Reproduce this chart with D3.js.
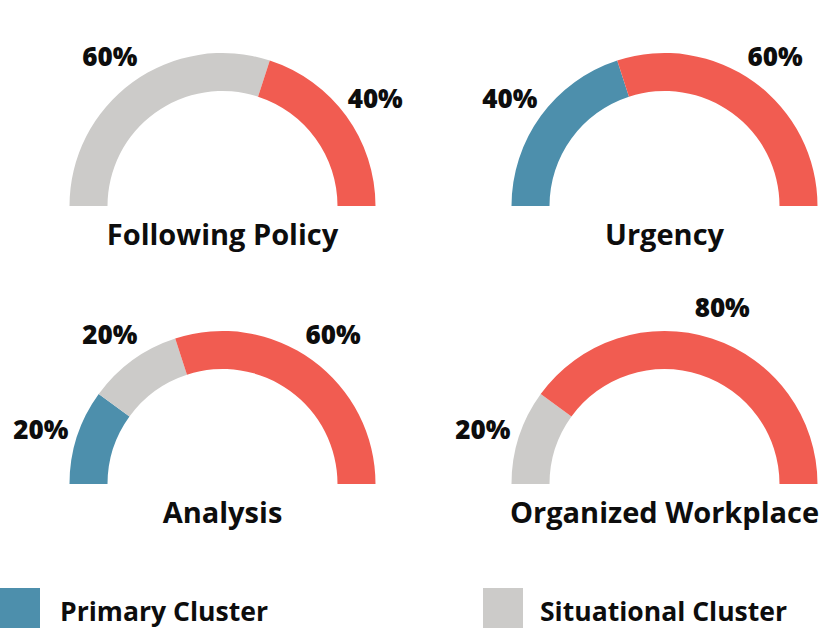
<!DOCTYPE html>
<html>
<head>
<meta charset="utf-8">
<script src="https://cdn.jsdelivr.net/npm/d3@7.9.0/dist/d3.min.js"></script>
<style>
  html, body { margin: 0; padding: 0; background: #fff; }
  svg { display: block; font-family: 'Open Sans', sans-serif; }
</style>
</head>
<body>
<svg id="chart"></svg>
<script>
// Data
const titles = ['Following Policy', 'Urgency', 'Analysis', 'Organized Workplace'];
const primaryCluster = [0, 40, 20, 0];
const situationalCluster = [60, 0, 20, 20];
const otherCluster = [40, 60, 60, 80];
const seriesNames = ['Primary Cluster', 'Situational Cluster', 'Other'];
const legendNames = ['Primary Cluster', 'Situational Cluster'];

const width = 823;
const height = 628;

const color = d3.scaleOrdinal()
  .domain(seriesNames)
  .range(['#4d8fac', '#cccbc9', '#f15c51']);

// Grid of gauges: 2 columns, 2 rows
const col = d3.scalePoint().domain([0, 1]).range([222.5, 664.5]);
const row = d3.scalePoint().domain([0, 1]).range([206, 484]);

const outerR = 153;
const innerR = 115;
const labelR = 190;

const pie = d3.pie()
  .sort(null)
  .value((d) => d.value)
  .startAngle(-Math.PI / 2)
  .endAngle(Math.PI / 2);

const arc = d3.arc().innerRadius(innerR).outerRadius(outerR);
const labelArc = d3.arc().innerRadius(labelR).outerRadius(labelR);

const svg = d3.select('#chart')
  .attr('width', width)
  .attr('height', height)
  .attr('viewBox', [0, 0, width, height]);

titles.forEach((title, i) => {
  const values = [
    { key: seriesNames[0], value: primaryCluster[i] },
    { key: seriesNames[1], value: situationalCluster[i] },
    { key: seriesNames[2], value: otherCluster[i] },
  ];
  const g = svg.append('g')
    .attr('transform', `translate(${col(i % 2)},${row(Math.floor(i / 2))})`);

  const arcs = pie(values).filter((d) => d.data.value > 0);

  g.selectAll('path')
    .data(arcs)
    .join('path')
    .attr('d', arc)
    .attr('fill', (d) => color(d.data.key));

  g.selectAll('text.pct')
    .data(arcs)
    .join('text')
    .attr('class', 'pct')
    .attr('transform', (d) => {
      const [x, y] = labelArc.centroid(d);
      return `translate(${x - 1},${y + 4})`;
    })
    .attr('text-anchor', 'middle')
    .attr('dominant-baseline', 'central')
    .attr('font-size', 26)
    .attr('font-weight', 800)
    .attr('fill', '#0d0d0d')
    .text((d) => d.data.value + '%');

  g.append('text')
    .attr('x', 0)
    .attr('y', 39)
    .attr('text-anchor', 'middle')
    .attr('font-size', 29)
    .attr('font-weight', 700)
    .attr('fill', '#0d0d0d')
    .text(title);
});

// Legend
const legendX = d3.scalePoint().domain(legendNames).range([0, 483]);
const legend = svg.append('g')
  .selectAll('g')
  .data(legendNames)
  .join('g')
  .attr('transform', (d) => `translate(${legendX(d)},588)`);

legend.append('rect')
  .attr('width', 40)
  .attr('height', 40)
  .attr('fill', (d) => color(d));

legend.append('text')
  .attr('x', (d, i) => (i === 0 ? 60 : 57))
  .attr('y', 33)
  .attr('font-size', 27)
  .attr('font-weight', 700)
  .attr('fill', '#0d0d0d')
  .attr('textLength', (d, i) => (i === 0 ? 208 : 247))
  .attr('lengthAdjust', 'spacingAndGlyphs')
  .text((d) => d);
</script>
</body>
</html>
